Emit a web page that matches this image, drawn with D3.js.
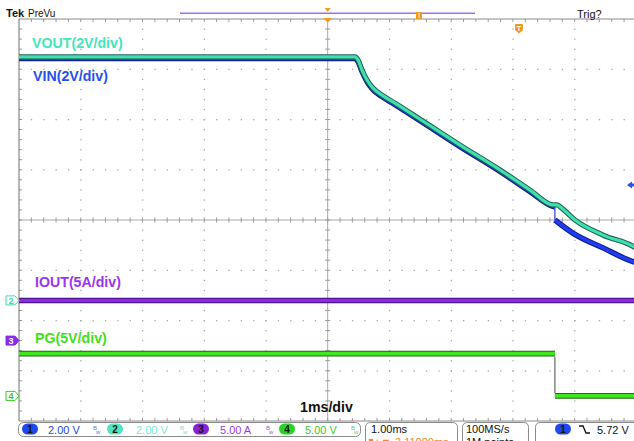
<!DOCTYPE html>
<html><head><meta charset="utf-8">
<script src="https://cdn.jsdelivr.net/npm/d3@7"></script>
<style>html,body{margin:0;padding:0;background:#fff;}svg{display:block;font-family:"Liberation Sans",Arial,sans-serif;}</style>
</head><body>
<svg id="c" width="634" height="441"></svg>
<script>
// ---- data (time in ms relative to screen centre, values in channel units) ----
const voutTime   = [-5, 0.442, 0.491, 0.556, 0.637, 0.734, 0.880, 1.090, 1.496, 2.144, 2.792, 3.278, 3.650, 3.715, 3.796, 4.006, 4.460, 4.994, 5.0];
const voutValues = [9.69, 9.69, 9.57, 9.17, 8.77, 8.45, 8.17, 7.85, 7.21, 6.18, 5.19, 4.39, 3.80, 3.80, 3.66, 3.20, 2.60, 2.08, 2.07];
const vinTimeA   = [-5, 0.442, 0.491, 0.556, 0.637, 0.734, 0.880, 1.090, 1.496, 2.144, 2.792, 3.278, 3.650, 3.68];
const vinValuesA = [9.63, 9.63, 9.51, 9.11, 8.71, 8.39, 8.11, 7.79, 7.15, 6.12, 5.13, 4.33, 3.74, 3.72];
const vinTimeB   = [3.68, 3.97, 4.46, 4.96, 5.0];
const vinValuesB = [3.20, 2.68, 2.09, 1.53, 1.50];
const ioutTime   = [-5, 5];
const ioutValues = [4.0, 4.0];
const pgTime     = [-5, 3.68, 3.68, 5];
const pgValues   = [4.2, 4.2, 0.0, 0.0];
// channel settings: scale per division and ground offset (divisions)
const chScale  = {vin: 2, vout: 2, iout: 5, pg: 5};
const chOffset = {vin: -1.6, vout: -1.6, iout: -2.4, pg: -3.5};
const traceLabels = ["VOUT(2V/div)", "VIN(2V/div)", "IOUT(5A/div)", "PG(5V/div)"];
const timeLabel = "1ms/div";
const statusScales = ["2.00 V", "2.00 V", "5.00 A", "5.00 V"];
const horizScale = "1.00ms", horizPos = "\u25AE+\u25BC-3.11000ms";
const sampleRate = "100MS/s", recordLen = "1M points";
const trigLevel = "5.72 V";

const svg = d3.select("#c");
const L = 19, T = 19, DIV = 61.74, VDIV = 50.25;
const x = d3.scaleLinear().domain([-5, 5]).range([L, L + 10 * DIV]);
const y = d3.scaleLinear().domain([-4, 4]).range([T + 8 * VDIV, T]);
const yc = (ch, v) => y(chOffset[ch] + v / chScale[ch]);

svg.append("rect").attr("width", 634).attr("height", 441).attr("fill", "#fff");
svg.append("clipPath").attr("id", "clip").append("rect")
  .attr("x", L).attr("y", T).attr("width", 634 - L).attr("height", 8 * VDIV);

// ---- graticule ----
const g = svg.append("g");
const dots = [];
for (let i = 1; i < 10; i++) { if (i === 5) continue;
  for (let k = 1; k < 40; k++) dots.push([x(-5 + i), y(-4 + k * 0.2)]); }
for (let j = 1; j < 8; j++) { if (j === 4) continue;
  for (let k = 1; k < 50; k++) dots.push([x(-5 + k * 0.2), y(-4 + j)]); }
g.selectAll(".d").data(dots).join("rect").attr("x", d => d[0] - 0.5).attr("y", d => d[1] - 0.5)
  .attr("width", 1.3).attr("height", 1.3).attr("fill", "#a8a8a8");
// center lines
g.append("line").attr("x1", x(0)).attr("x2", x(0)).attr("y1", y(4)).attr("y2", y(-4)).attr("stroke", "#a8a8a8");
g.append("line").attr("x1", L).attr("x2", 634).attr("y1", y(0)).attr("y2", y(0)).attr("stroke", "#a8a8a8");
const ct = [];
for (let k = 1; k < 40; k++) ct.push({x1: x(0) - 2.5, x2: x(0) + 2.5, y1: y(-4 + k * 0.2), y2: y(-4 + k * 0.2)});
for (let k = 1; k < 50; k++) ct.push({x1: x(-5 + k * 0.2), x2: x(-5 + k * 0.2), y1: y(0) - 2.5, y2: y(0) + 2.5});
// border ticks
for (let k = 1; k < 50; k++) {
  ct.push({x1: x(-5 + k * 0.2), x2: x(-5 + k * 0.2), y1: T, y2: T + 3});
  ct.push({x1: x(-5 + k * 0.2), x2: x(-5 + k * 0.2), y1: y(-4), y2: y(-4) - 3});
}
for (let k = 1; k < 40; k++) ct.push({x1: L, x2: L + 3, y1: y(-4 + k * 0.2), y2: y(-4 + k * 0.2)});
g.selectAll(".t").data(ct).join("line").attr("x1", d => d.x1).attr("x2", d => d.x2)
  .attr("y1", d => d.y1).attr("y2", d => d.y2).attr("stroke", "#9a9a9a");
g.append("line").attr("x1", L).attr("x2", 634).attr("y1", T).attr("y2", T).attr("stroke", "#8a8a8a");
g.append("line").attr("x1", L).attr("x2", 634).attr("y1", y(-4)).attr("y2", y(-4)).attr("stroke", "#8a8a8a");
g.append("line").attr("x1", L).attr("x2", L).attr("y1", T).attr("y2", y(-4)).attr("stroke", "#707070");

// ---- traces ----
const tr = svg.append("g").attr("clip-path", "url(#clip)");
function trace(ch, ts, vs, dark, bright, w) {
  const pts = ts.map((t, i) => [x(t), yc(ch, vs[i])]);
  const line = d3.line().curve(d3.curveMonotoneX);
  tr.append("path").attr("d", line(pts)).attr("fill", "none").attr("stroke", dark).attr("stroke-width", w + 2).attr("stroke-linejoin", "round");
  tr.append("path").attr("d", line(pts)).attr("fill", "none").attr("stroke", bright).attr("stroke-width", w).attr("stroke-linejoin", "round");
  return pts;
}
function connector(p, q, col) {
  tr.append("line").attr("x1", p[0]).attr("y1", p[1]).attr("x2", q[0]).attr("y2", q[1]).attr("stroke", col).attr("stroke-width", 1.2);
}
const vA = trace("vin", vinTimeA, vinValuesA, "#101a80", "#1f3cf0", 3.5);
const vB = trace("vin", vinTimeB, vinValuesB, "#101a80", "#1f3cf0", 3.5);
connector(vA[vA.length - 1], vB[0], "#2a3cd0");
trace("vout", voutTime, voutValues, "#1f5f52", "#3fe0b0", 3.2);
trace("iout", ioutTime, ioutValues, "#3a1070", "#8a2ae6", 3.5);
const pA = trace("pg", pgTime.slice(0, 2), pgValues.slice(0, 2), "#1e6a12", "#3ee81c", 3.8);
const pB = trace("pg", pgTime.slice(2), pgValues.slice(2), "#1e6a12", "#3ee81c", 3.8);
connector([pA[1][0], pA[1][1] + 3], [pB[0][0], pB[0][1] - 3], "#606a60");

// ---- labels ----
const lab = [
  {t: traceLabels[0], x: 32, y: 48, c: "#45e6b8"},
  {t: traceLabels[1], x: 33, y: 81, c: "#2650ee"},
  {t: traceLabels[2], x: 35, y: 287, c: "#9a35ec"},
  {t: traceLabels[3], x: 35, y: 343, c: "#45de22"},
  {t: timeLabel, x: 300, y: 412, c: "#111"}
];
svg.selectAll(".lab").data(lab).join("text").attr("x", d => d.x).attr("y", d => d.y)
  .attr("fill", d => d.c).attr("font-size", 14.2).attr("font-weight", "bold").text(d => d.t);

// ---- header ----
svg.append("text").attr("x", 6).attr("y", 17).attr("font-size", 11).attr("font-weight", "bold").attr("fill", "#111").text("Tek");
svg.append("text").attr("x", 28).attr("y", 17).attr("font-size", 10).attr("fill", "#111").text("PreVu");
svg.append("text").attr("x", 577).attr("y", 18).attr("font-size", 11).attr("fill", "#111").text("Trig?");
svg.append("line").attr("x1", 180).attr("x2", 475).attr("y1", 13.3).attr("y2", 13.3).attr("stroke", "#a070e0").attr("stroke-width", 1.5);
svg.append("rect").attr("x", 416).attr("y", 12).attr("width", 6).attr("height", 7).attr("fill", "#f39a1e");
svg.append("line").attr("x1", 419).attr("x2", 419).attr("y1", 13).attr("y2", 18).attr("stroke", "#fff").attr("stroke-width", 1);
svg.append("path").attr("d", `M${x(0) - 3},8 L${x(0) + 3},8 L${x(0)},12 Z`).attr("fill", "#f39a1e");
svg.append("path").attr("d", `M${x(0) - 4},18 L${x(0) + 4},18 L${x(0)},23 Z`).attr("fill", "#f39a1e");
svg.append("path").attr("d", "M515,25 Q515,24 516,24 L522,24 Q523,24 523,25 L523,30 L519,33.5 L515,30 Z").attr("fill", "#f39a1e");
svg.append("text").attr("x", 519).attr("y", 30.5).attr("text-anchor", "middle").attr("font-size", 7).attr("font-weight", "bold").attr("fill", "#fff").text("T");
// trigger level arrow (right)
svg.append("path").attr("d", "M627,185 L632,181.5 L632,188.5 Z").attr("fill", "#2a50f0");
svg.append("rect").attr("x", 632).attr("y", 183.5).attr("width", 2).attr("height", 3).attr("fill", "#2a50f0");

// ---- channel ground markers ----
function marker(yy, col, label, filled) {
  const p = `M6,${yy - 4.5} L15,${yy - 4.5} L19,${yy} L15,${yy + 4.5} L6,${yy + 4.5} Z`;
  svg.append("path").attr("d", p).attr("fill", filled ? col : "#fff").attr("stroke", col).attr("stroke-width", 1);
  svg.append("text").attr("x", 11).attr("y", yy + 3.5).attr("text-anchor", "middle").attr("font-size", 9)
    .attr("font-weight", "bold").attr("fill", filled ? "#fff" : col).text(label);
}
marker(yc("vout", 0), "#40d8b0", "2", false);
marker(yc("iout", 0), "#8a2ae6", "3", true);
marker(yc("pg", 0), "#3cc820", "4", false);

// ---- status bar ----
const sb = svg.append("g");
function box(x0, x1, open) {
  const r = 5, y0 = 422.5, y1 = 436.5;
  if (open) sb.append("path").attr("d", `M${x0},441 L${x0},${y0 + r} Q${x0},${y0} ${x0 + r},${y0} L${x1 - r},${y0} Q${x1},${y0} ${x1},${y0 + r} L${x1},441`)
    .attr("fill", "none").attr("stroke", "#8a8a8a");
  else sb.append("rect").attr("x", x0).attr("y", y0).attr("width", x1 - x0).attr("height", y1 - y0).attr("rx", r)
    .attr("fill", "none").attr("stroke", "#8a8a8a");
}
box(18.5, 360.5, false);
box(365.5, 457.5, true);
box(462.5, 528.5, true);
box(535.5, 660, true);
function pill(cx, col, n) {
  sb.append("rect").attr("x", cx - 8).attr("y", 423.5).attr("width", 16).attr("height", 11).attr("rx", 5.5).attr("fill", col);
  sb.append("text").attr("x", cx).attr("y", 433).attr("text-anchor", "middle").attr("font-size", 10).attr("font-weight", "bold").attr("fill", "#111").text(n);
}
const chs = [
  {px: 30, col: "#1f48f0", tc: "#2448e0", n: "1", tx: 48, bx: 93, bc: "#6a7ae0"},
  {px: 115, col: "#50e4c0", tc: "#78ead0", n: "2", tx: 136, bx: 180, bc: "#80e0c8"},
  {px: 201, col: "#8a22d8", tc: "#9a3ae6", n: "3", tx: 220, bx: 266, bc: "#9a5ad8"},
  {px: 287, col: "#26d426", tc: "#3ccc20", n: "4", tx: 305, bx: 351, bc: "#6ad040"}
];
chs.forEach((c, i) => {
  pill(c.px, c.col, c.n);
  sb.append("text").attr("x", c.tx).attr("y", 433.5).attr("font-size", 11).attr("fill", c.tc).text(statusScales[i]);
  sb.append("text").attr("x", c.bx).attr("y", 430).attr("font-size", 6).attr("fill", c.bc).text("B");
  sb.append("text").attr("x", c.bx + 3).attr("y", 434).attr("font-size", 6).attr("fill", c.bc).text("w");
});
sb.append("text").attr("x", 371).attr("y", 433).attr("font-size", 11).attr("fill", "#111").text(horizScale);
sb.append("text").attr("x", 368).attr("y", 445.5).attr("font-size", 11).attr("fill", "#f08a10").text(horizPos);
sb.append("text").attr("x", 466).attr("y", 433).attr("font-size", 11).attr("fill", "#111").text(sampleRate);
sb.append("text").attr("x", 466).attr("y", 445.5).attr("font-size", 11).attr("fill", "#111").text(recordLen);
sb.append("rect").attr("x", 555).attr("y", 423.5).attr("width", 16).attr("height", 11).attr("rx", 5.5).attr("fill", "#1f48f0");
sb.append("text").attr("x", 563).attr("y", 433).attr("text-anchor", "middle").attr("font-size", 10).attr("font-weight", "bold").attr("fill", "#111").text("1");
sb.append("path").attr("d", "M579,426 L583,426 L586,433 L590,433").attr("fill", "none").attr("stroke", "#111").attr("stroke-width", 1.3);
sb.append("text").attr("x", 597).attr("y", 433.5).attr("font-size", 11).attr("fill", "#111").text(trigLevel);
</script>
</body></html>
